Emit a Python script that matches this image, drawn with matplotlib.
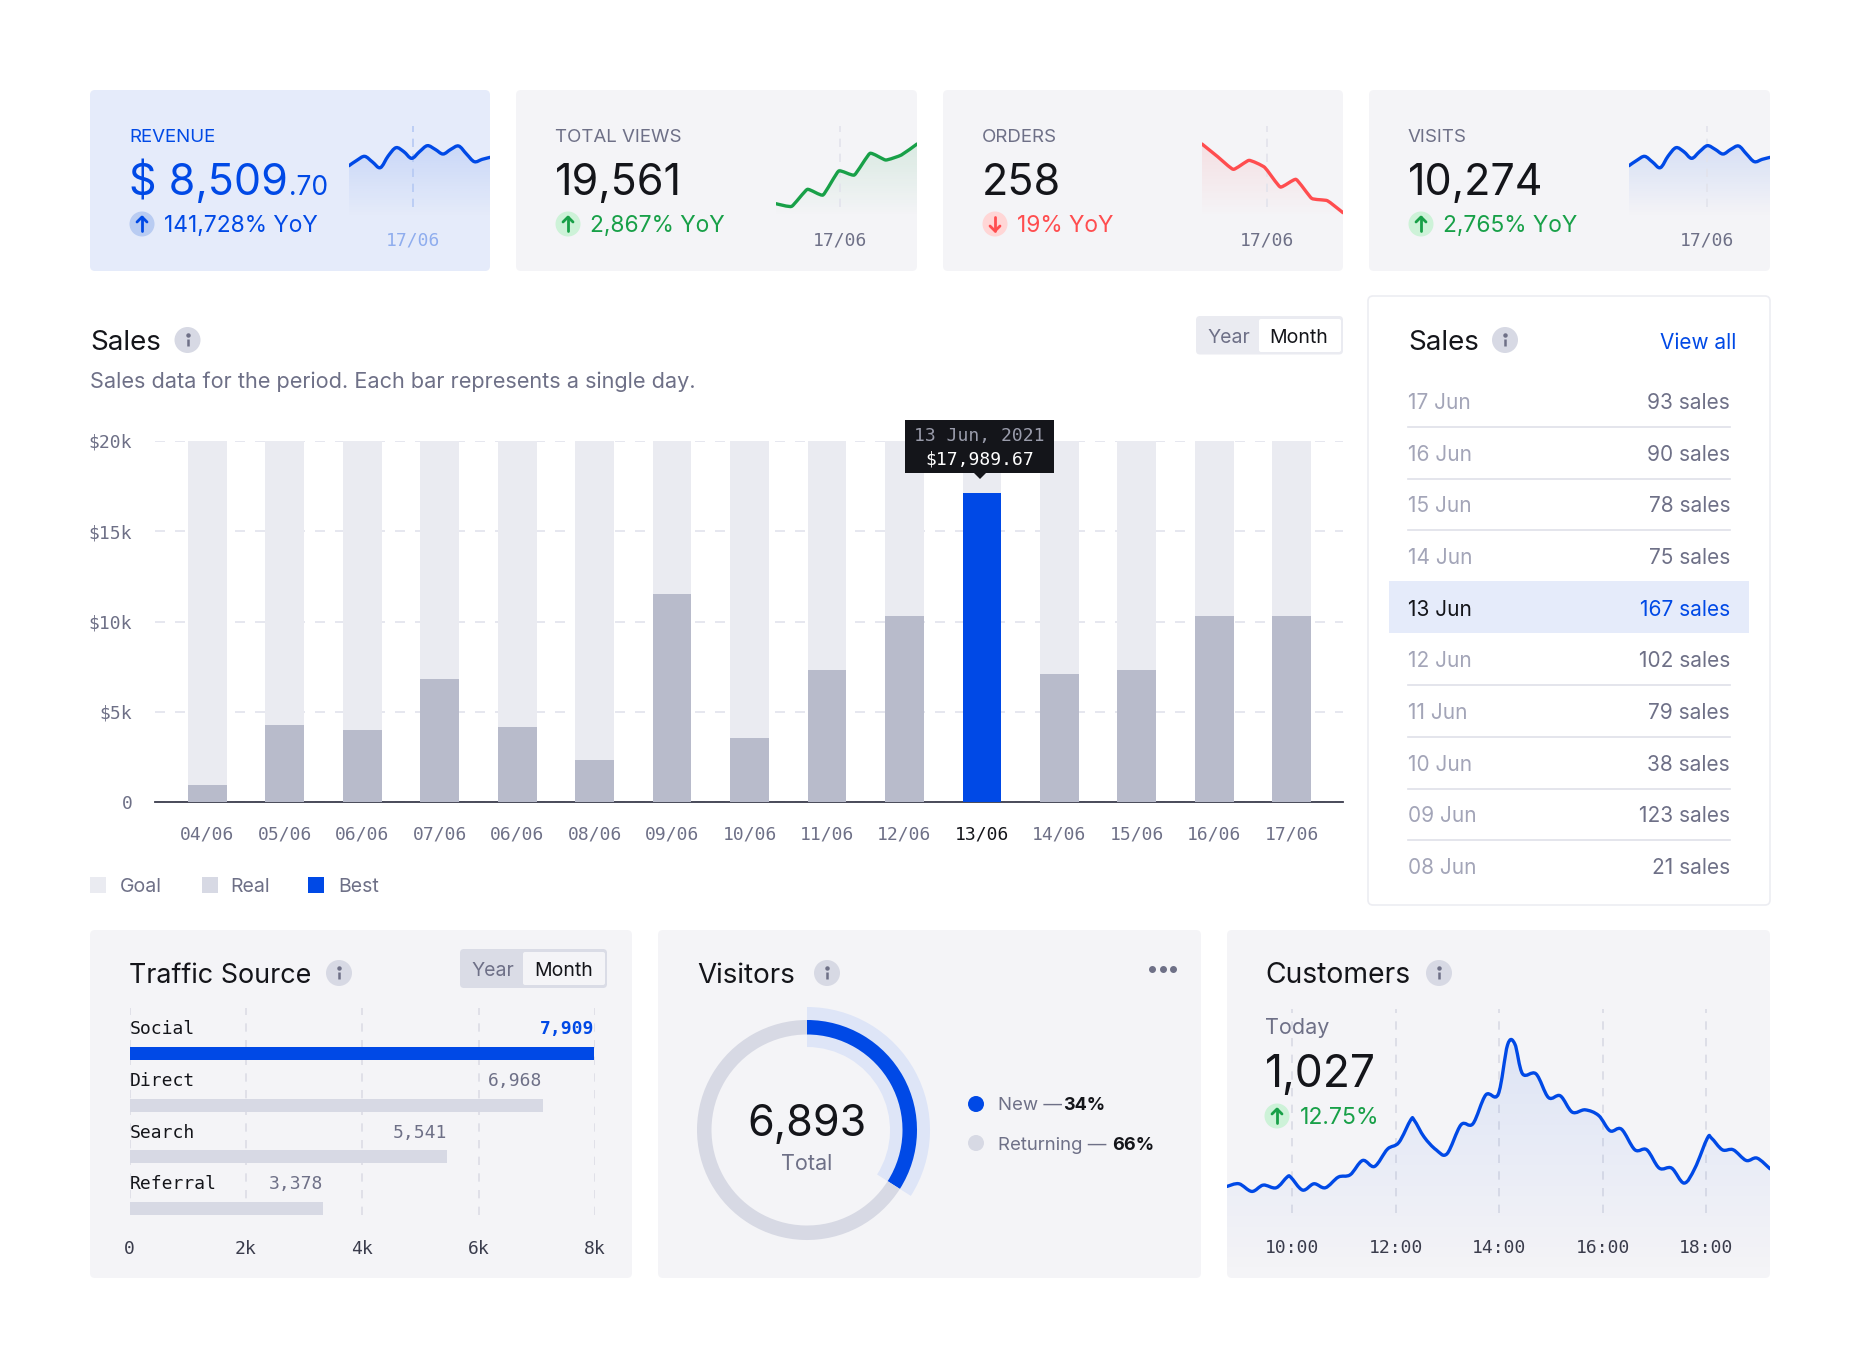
import numpy as np
import matplotlib
matplotlib.use("Agg")
import matplotlib.pyplot as plt
from matplotlib.patches import FancyBboxPatch, Circle, Rectangle, Polygon, PathPatch
from matplotlib.path import Path

plt.rcParams['font.family'] = ['Inter', 'DejaVu Sans']
MONO = 'DejaVu Sans Mono'
W, H = 1860, 1370

BLUE = '#0049E6'
DARK = '#14151A'
GRAY = '#6E7087'
LIGHT = '#A3A5B8'
CARD = '#F4F4F7'
GREEN = '#18A048'
RED = '#FF4D4F'
GRID = '#E2E3EC'

# top cards
spark_half = [153, 169, 181, 164, 147, 182, 207, 195, 175, 195, 213, 202, 188, 202, 212, 188, 165, 172, 178]
views_spark = [39, 31, 82, 65, 137, 125, 190, 170, 185, 218]
orders_spark = [218, 180, 142, 169, 148, 89, 112, 55, 48, 12]

# sales bars
sales_days = ['04/06', '05/06', '06/06', '07/06', '06/06', '08/06', '09/06', '10/06',
              '11/06', '12/06', '13/06', '14/06', '15/06', '16/06', '17/06']
sales_goal = [20000] * 15
sales_real = [920, 4280, 4000, 6800, 4150, 2300, 11500, 3550, 7300, 10300, 17100, 7100, 7300, 10300, 10300]
sales_ticks = [0, 5000, 10000, 15000, 20000]
sales_tick_labels = ['0', '$5k', '$10k', '$15k', '$20k']

# sales list
list_days = ['17 Jun', '16 Jun', '15 Jun', '14 Jun', '13 Jun', '12 Jun', '11 Jun', '10 Jun', '09 Jun', '08 Jun']
list_sales = [93, 90, 78, 75, 167, 102, 79, 38, 123, 21]

# traffic source
traffic_names = ['Social', 'Direct', 'Search', 'Referral']
traffic_bars = [7985, 7100, 5465, 3325]
traffic_labels = ['7,909', '6,968', '5,541', '3,378']
traffic_ticks = [0, 2000, 4000, 6000, 8000]
traffic_tick_labels = ['0', '2k', '4k', '6k', '8k']

# visitors
visitor_share = [34, 66]

# customers
cust_hours = [8.74, 8.97, 9.22, 9.44, 9.69, 9.90, 9.97, 10.20, 10.42, 10.64, 10.89, 11.12, 11.36, 11.59, 11.84,
              12.06, 12.29, 12.36, 12.55, 12.78, 12.99, 13.26, 13.49, 13.74, 13.98, 14.16, 14.30, 14.45, 14.71,
              14.95, 15.18, 15.41, 15.66, 15.92, 16.14, 16.36, 16.62, 16.85, 17.09, 17.33, 17.57, 17.78, 18.02,
              18.10, 18.31, 18.52, 18.77, 18.98, 19.23]
cust_values = [275, 283, 260, 279, 271, 303, 303, 264, 283, 271, 303, 310, 353, 335, 387,
               407, 475, 473, 423, 385, 373, 460, 463, 550, 552, 700, 703, 613, 613,
               542, 547, 498, 505, 488, 442, 447, 385, 385, 330, 330, 285, 330, 420,
               420, 385, 385, 353, 360, 328]
cust_ticks = [10, 12, 14, 16, 18]
cust_tick_labels = ['10:00', '12:00', '14:00', '16:00', '18:00']


fig = plt.figure(figsize=(W / 100, H / 100), dpi=100, facecolor='white')


def px_axes(x0, y0, x1, y1, z=1):
    ax = fig.add_axes([x0 / W, 1 - y1 / H, (x1 - x0) / W, (y1 - y0) / H], zorder=z)
    ax.patch.set_alpha(0)
    for s in ax.spines.values():
        s.set_visible(False)
    return ax


bg = px_axes(0, 0, W, H, 0)
bg.set_xlim(0, W); bg.set_ylim(H, 0); bg.axis('off')
fg = px_axes(0, 0, W, H, 5)
fg.set_xlim(0, W); fg.set_ylim(H, 0); fg.axis('off')


def card(x0, y0, x1, y1, color=CARD, edge='none', r=5):
    bg.add_patch(FancyBboxPatch((x0, y0), x1 - x0, y1 - y0, boxstyle=f'round,pad=0,rounding_size={r}',
                                fc=color, ec=edge, lw=1.2))


def info(x, y):
    fg.add_patch(Circle((x, y), 13, fc='#D7D9E4', ec='none'))
    fg.plot([x, x], [y - 1, y + 6], color=GRAY, lw=1.8, solid_capstyle='butt')
    fg.plot([x], [y - 5], 'o', color=GRAY, ms=2.2)


def badge(x, y, up, back, color):
    fg.add_patch(Circle((x, y), 12.5, fc=back, ec='none'))
    d = 1 if up else -1
    fg.plot([x, x], [y - 7 * d, y + 7 * d], color=color, lw=2, solid_capstyle='round')
    fg.plot([x - 5, x, x + 5], [y - 2 * d, y - 7 * d, y - 2 * d], color=color, lw=2,
            solid_capstyle='round', solid_joinstyle='round')


def toggle(x0, y0, x1, y1, wx0, wy0, wx1, wy1, tone, year_x, month_x, ym):
    fg.add_patch(FancyBboxPatch((x0, y0), x1 - x0, y1 - y0, boxstyle='round,pad=0,rounding_size=4', fc=tone, ec='none'))
    fg.add_patch(FancyBboxPatch((wx0, wy0), wx1 - wx0, wy1 - wy0, boxstyle='round,pad=0,rounding_size=2',
                                fc='white' if tone == '#EAEBF1' else CARD, ec='none'))
    fg.text(year_x, ym, 'Year', color=GRAY, fontsize=14, ha='center', va='center')
    fg.text(month_x, ym, 'Month', color=DARK, fontsize=14, ha='center', va='center')


def faded_fill(ax, x, y, color, alpha, ymin=0):
    rgba = np.zeros((256, 1, 4))
    rgba[..., :3] = matplotlib.colors.to_rgb(color)
    rgba[..., 3] = np.linspace(0, alpha, 256)[:, None]
    top = max(y)
    im = ax.imshow(rgba, origin='lower', aspect='auto', extent=(min(x), max(x), ymin, top), zorder=1)
    poly = Polygon(list(zip(x, y)) + [(x[-1], ymin), (x[0], ymin)], transform=ax.transData, fc='none', ec='none')
    ax.add_patch(poly)
    im.set_clip_path(poly)


def curve(ax, x, y, color, k=1 / 6, lw=2.4):
    # rounded line through the read points, the look of the original's curve option
    x = np.asarray(x, float)
    y = np.asarray(y, float)
    verts = [(x[0], y[0])]
    codes = [Path.MOVETO]
    for i in range(len(x) - 1):
        p0 = max(i - 1, 0)
        p3 = min(i + 2, len(x) - 1)
        verts.append((x[i] + (x[i + 1] - x[p0]) * k, y[i] + (y[i + 1] - y[p0]) * k))
        verts.append((x[i + 1] - (x[p3] - x[i]) * k, y[i + 1] - (y[p3] - y[i]) * k))
        verts.append((x[i + 1], y[i + 1]))
        codes += [Path.CURVE4] * 3
    ax.add_patch(PathPatch(Path(verts, codes), fc='none', ec=color, lw=lw, capstyle='round',
                           joinstyle='round', zorder=3))


# top row
stat_cards = [
    (90, 490, '#E5EBFA', 'REVENUE', '$ 8,509', '141,728% YoY', BLUE, BLUE, True, '#B9CCF2', BLUE,
     np.arange(19) / 2, spark_half, BLUE, 4.1, '#B5C9F3', '#8FADEE', 1 / 6),
    (516, 917, CARD, 'TOTAL VIEWS', '19,561', '2,867% YoY', GRAY, DARK, True, '#CDF2D8', GREEN,
     np.arange(10), views_spark, GREEN, 4.1, GRID, GRAY, 1 / 14),
    (943, 1343, CARD, 'ORDERS', '258', '19% YoY', GRAY, DARK, False, '#FFD6D6', RED,
     np.arange(10), orders_spark, RED, 4.15, GRID, GRAY, 1 / 14),
    (1369, 1770, CARD, 'VISITS', '10,274', '2,765% YoY', GRAY, DARK, True, '#CDF2D8', GREEN,
     np.arange(19) / 2, spark_half, BLUE, 4.95, GRID, GRAY, 1 / 6),
]
for x0, x1, tone, label, number, delta, label_col, num_col, up, b_col, d_col, sx, sy, s_col, today, dash_col, date_col, k in stat_cards:
    card(x0, 90, x1, 271, tone)
    tx = x0 + 39
    fg.text(tx, 137, label, color=label_col, fontsize=13.5, va='center')
    fg.text(tx, 195, number, color=num_col, fontsize=31, va='baseline')
    if label == 'REVENUE':
        fg.text(289, 195, '.70', color=num_col, fontsize=19, va='baseline')
    badge(tx + 13, 224, up, b_col, d_col)
    fg.text(tx + 35, 226, delta, color=d_col, fontsize=16.4, va='center')
    ax = px_axes(x1 - 141, 116, x1, 216.7)
    faded_fill(ax, list(sx), list(sy), s_col, 0.12)
    ax.axvline(today, color=dash_col, lw=1.2, ls=(0, (5, 4)), zorder=1.5, ymax=272 / 302, ymin=30 / 302)
    curve(ax, sx, sy, s_col, k)
    ax.set_xlim(0, 9); ax.set_ylim(0, 302)
    ax.set_xticks([]); ax.set_yticks([])
    date_x = x1 - 141 + today / 9 * 141
    fg.text(date_x, 240, '17/06', color=date_col, family=MONO, fontsize=13, ha='center', va='center')

# sales header
fg.text(90, 342.5, 'Sales', color=DARK, fontsize=20, va='center')
info(187.5, 340)
fg.text(90, 382, 'Sales data for the period. Each bar represents a single day.', color=GRAY, fontsize=15.6, va='center')
toggle(1196, 316, 1343, 354.5, 1259, 319, 1341, 352, '#EAEBF1', 1228.5, 1299, 338)

# sales bars
ax = px_axes(154.5, 441, 1343, 802)
pos = np.arange(len(sales_days))
ax.set_axisbelow(True)
ax.yaxis.grid(True, color=GRID, lw=1.2, ls=(0, (6, 6)))
ax.bar(pos, sales_goal, width=0.5, color='#EAEBF1', zorder=2)
colors = [BLUE if d == 10 else '#B8BBCB' for d in pos]
ax.bar(pos, sales_real, width=0.5, color=colors, zorder=3)
ax.set_xlim(-0.683, 14.662)
ax.set_ylim(0, 20000)
ax.spines['bottom'].set_visible(True)
ax.spines['bottom'].set_color('#3A3C4C')
ax.spines['bottom'].set_linewidth(1.3)
ax.set_xticks(pos, sales_days, family=MONO, fontsize=13, color=GRAY)
ax.set_yticks(sales_ticks, sales_tick_labels, family=MONO, fontsize=13, color=GRAY)
ax.tick_params(axis='x', length=0, pad=17)
ax.tick_params(axis='y', length=0, pad=16)
ax.get_xticklabels()[10].set_color(DARK)

# tooltip
fg.add_patch(Rectangle((905, 420), 149, 53, fc=DARK, ec='none'))
fg.add_patch(Polygon([(974, 473), (986, 473), (980, 479)], fc=DARK, ec='none'))
fg.text(979.5, 435.5, '13 Jun, 2021', color='#9A9CAB', family=MONO, fontsize=13, ha='center', va='center')
fg.text(979.5, 459, '$17,989.67', color='white', family=MONO, fontsize=13, ha='center', va='center')

# legend
for x, tone, name, tx in [(90, '#EAEBF1', 'Goal', 120), (202, '#D7D9E4', 'Real', 230), (308, BLUE, 'Best', 338)]:
    fg.add_patch(Rectangle((x, 877), 16, 16, fc=tone, ec='none'))
    fg.text(tx, 887, name, color=GRAY, fontsize=14, va='center')

# right list
card(1368, 296, 1770, 905, 'white', '#ECEDF2')
fg.text(1408, 342.5, 'Sales', color=DARK, fontsize=20, va='center')
info(1505, 340)
fg.text(1736, 343, 'View all', color=BLUE, fontsize=15, ha='right', va='center')
bg.add_patch(Rectangle((1389, 581), 360, 52, fc='#E5EBFA', ec='none'))
for i, (day, n) in enumerate(zip(list_days, list_sales)):
    y = 401 + i * 51.65
    hot = n == 167
    fg.text(1408, y + 2, day, color=DARK if hot else LIGHT, fontsize=15, va='center')
    fg.text(1730, y + 2, f'{n} sales', color=BLUE if hot else GRAY, fontsize=15, ha='right', va='center')
    if i not in (3, 4, 9):
        bg.plot([1408, 1730], [y + 26, y + 26], color='#DFE0E9', lw=1.2)

# bottom cards
card(90, 930, 632, 1278)
card(658, 930, 1201, 1278)
card(1227, 930, 1770, 1278)

# traffic source
fg.text(129, 975.5, 'Traffic Source', color=DARK, fontsize=19.4, va='center')
info(339, 973)
toggle(460, 949, 607, 988, 523, 952, 605, 985, '#DADCE6', 493, 564, 971)
ax = px_axes(129.5, 1008, 595, 1215)
ax.set_xlim(0, 8000)
ax.set_ylim(3.124, -0.88)
ax.set_axisbelow(True)
ax.xaxis.grid(True, color='#DCDDE6', lw=1.2, ls=(0, (5, 5)))
ax.barh(range(4), traffic_bars, height=0.25, color=[BLUE, '#D7D9E4', '#D7D9E4', '#D7D9E4'], zorder=2)
for i, (name, v, lab) in enumerate(zip(traffic_names, traffic_bars, traffic_labels)):
    ax.text(0, i - 0.47, name, color=DARK, family=MONO, fontsize=13, va='center')
    ax.text(v, i - 0.47, lab, color=BLUE if i == 0 else GRAY, family=MONO, fontsize=13,
            ha='right', va='center', weight='bold' if i == 0 else 'normal')
ax.set_xticks(traffic_ticks, traffic_tick_labels, family=MONO, fontsize=13, color='#3A3C4C')
ax.set_yticks([])
ax.tick_params(axis='x', length=0, pad=18)

# visitors
fg.text(697, 975.5, 'Visitors', color=DARK, fontsize=20, va='center')
info(827, 973)
fg.plot([1152, 1163, 1173], [969, 969, 969], 'o', color=GRAY, ms=4)
ax = px_axes(807 - 130, 1130 - 130, 807 + 130, 1130 + 130)
ax.pie(visitor_share, radius=123, startangle=90, counterclock=False, colors=['#DEE5F7', 'none'],
       wedgeprops={'width': 40, 'lw': 0})
ax.pie(visitor_share, radius=110, startangle=90, counterclock=False, colors=[BLUE, '#D7D9E4'],
       wedgeprops={'width': 14.5, 'lw': 0})
ax.set_xlim(-130, 130)
ax.set_ylim(-130, 130)
fg.text(807, 1125, '6,893', color=DARK, fontsize=31, ha='center', va='center')
fg.text(807, 1164, 'Total', color=GRAY, fontsize=15.5, ha='center', va='center')
fg.add_patch(Circle((976, 1104), 8, fc=BLUE, ec='none'))
fg.add_patch(Circle((976, 1143), 8, fc='#D7D9E4', ec='none'))
fg.text(998, 1106, 'New —', color=GRAY, fontsize=13.4, va='center')
fg.text(1063, 1106, '34%', color=DARK, fontsize=13, weight='bold', va='center')
fg.text(998, 1145, 'Returning —', color=GRAY, fontsize=13.4, va='center')
fg.text(1112, 1145, '66%', color=DARK, fontsize=13, weight='bold', va='center')

# customers
fg.text(1265, 975.5, 'Customers', color=DARK, fontsize=20.4, va='center')
info(1439, 973)
ax = px_axes(1227, 950, 1770, 1278)
ax.vlines(cust_ticks, 195, 807, color='#D9DAE4', lw=1.2, ls=(0, (5, 5)), zorder=1)
faded_fill(ax, cust_hours, cust_values, BLUE, 0.09)
curve(ax, cust_hours, cust_values, BLUE, 1 / 6)
ax.set_xlim(8.74, 19.23)
ax.set_ylim(0, 985)
ax.set_yticks([])
ax.set_xticks(cust_ticks, cust_tick_labels, family=MONO, fontsize=13, color='#3A3C4C')
ax.tick_params(axis='x', length=0, pad=-28)
fg.text(1265, 1028, 'Today', color=GRAY, fontsize=15.5, va='center')
fg.text(1265, 1087, '1,027', color=DARK, fontsize=32, va='baseline')
badge(1277, 1116, True, '#CDF2D8', GREEN)
fg.text(1300, 1118, '12.75%', color=GREEN, fontsize=16.6, va='center')

fig.savefig('out.png', dpi=100)
